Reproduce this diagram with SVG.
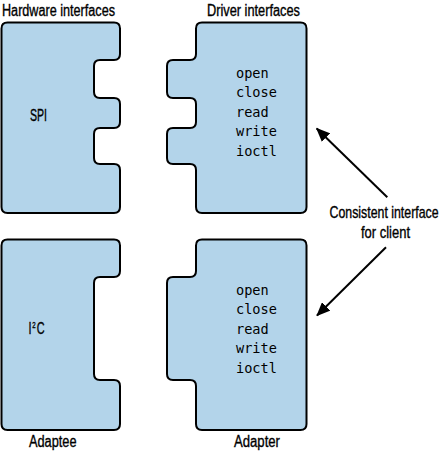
<svg xmlns="http://www.w3.org/2000/svg" width="443" height="452" viewBox="0 0 443 452">
<style>
.shape{fill:#b3d4ea;stroke:#000;stroke-width:2;stroke-linejoin:round}
.lbl{font-family:"Liberation Sans",Arial,sans-serif;font-size:16px;fill:#000;stroke:#000;stroke-width:0.35}
.mono{font-family:"DejaVu Sans Mono","Liberation Mono",monospace;font-size:13.6px;fill:#000}
.conn{stroke:#000;stroke-width:2;fill:none}
</style>
<defs>
<marker id="ah" viewBox="0 0 14 12" refX="13" refY="6" markerWidth="14" markerHeight="12" markerUnits="userSpaceOnUse" orient="auto">
<path d="M0,0 L14,6 L0,12 Z" fill="#000"/>
</marker>
</defs>
<rect width="443" height="452" fill="#fff"/>
<text class="lbl" x="2" y="15.5" textLength="113" lengthAdjust="spacingAndGlyphs">Hardware interfaces</text>
<text class="lbl" x="207" y="15.5" textLength="93" lengthAdjust="spacingAndGlyphs">Driver interfaces</text>
<g id="spi">
<path class="shape" d="M7.5,22.5 H114 Q120,22.5 120,28.5 V54 Q120,60 114,60 H100 Q94,60 94,66 V92 Q94,98 100,98 H114 Q120,98 120,104 V122 Q120,128 114,128 H100 Q94,128 94,134 V158 Q94,164 100,164 H114 Q120,164 120,170 V207 Q120,213 114,213 H7.5 Q1.5,213 1.5,207 V28.5 Q1.5,22.5 7.5,22.5 Z"/>
<text class="lbl" x="30" y="120.5" textLength="17" lengthAdjust="spacingAndGlyphs">SPI</text>
</g>
<g id="driver">
<path class="shape" d="M202,22.5 H300.5 Q306.5,22.5 306.5,28.5 V207 Q306.5,213 300.5,213 H202 Q196,213 196,207 V170 Q196,164 190,164 H173 Q167,164 167,158 V134 Q167,128 173,128 H190 Q196,128 196,122 V104 Q196,98 190,98 H173 Q167,98 167,92 V66 Q167,60 173,60 H190 Q196,60 196,54 V28.5 Q196,22.5 202,22.5 Z"/>
<text class="mono" x="236" y="77.5">open</text>
<text class="mono" x="236" y="97">close</text>
<text class="mono" x="236" y="116.5">read</text>
<text class="mono" x="236" y="136">write</text>
<text class="mono" x="236" y="156">ioctl</text>
</g>
<g id="adaptee">
<path class="shape" d="M7.5,239.5 H114 Q120,239.5 120,245.5 V271 Q120,277 114,277 H100 Q94,277 94,283 V374 Q94,380 100,380 H114 Q120,380 120,386 V424 Q120,430 114,430 H7.5 Q1.5,430 1.5,424 V245.5 Q1.5,239.5 7.5,239.5 Z"/>
<text class="lbl" transform="translate(28.5,333.5) scale(0.68,1)" x="0" y="0">I<tspan x="5.5" y="-6" font-size="9">2</tspan><tspan x="12" y="0">C</tspan></text>
</g>
<g id="adapter">
<path class="shape" d="M202,239.5 H300.5 Q306.5,239.5 306.5,245.5 V424 Q306.5,430 300.5,430 H202 Q196,430 196,424 V386 Q196,380 190,380 H173 Q167,380 167,374 V283 Q167,277 173,277 H190 Q196,277 196,271 V245.5 Q196,239.5 202,239.5 Z"/>
<text class="mono" x="236" y="294.5">open</text>
<text class="mono" x="236" y="314">close</text>
<text class="mono" x="236" y="333.5">read</text>
<text class="mono" x="236" y="353">write</text>
<text class="mono" x="236" y="373">ioctl</text>
</g>
<text class="lbl" x="29" y="446.5" textLength="47.5" lengthAdjust="spacingAndGlyphs">Adaptee</text>
<text class="lbl" x="234" y="446.5" textLength="46" lengthAdjust="spacingAndGlyphs">Adapter</text>
<g id="client-label">
<text class="lbl" transform="translate(329.5,218) scale(0.772,1)" x="0" y="0">Consistent interface</text>
<text class="lbl" x="361" y="237.5" textLength="49" lengthAdjust="spacingAndGlyphs">for client</text>
</g>
<g id="connectors">
<line class="conn" x1="387.3" y1="197.3" x2="316.7" y2="128.5" marker-end="url(#ah)"/>
<line class="conn" x1="386" y1="247.3" x2="317" y2="315.5" marker-end="url(#ah)"/>
</g>
</svg>
